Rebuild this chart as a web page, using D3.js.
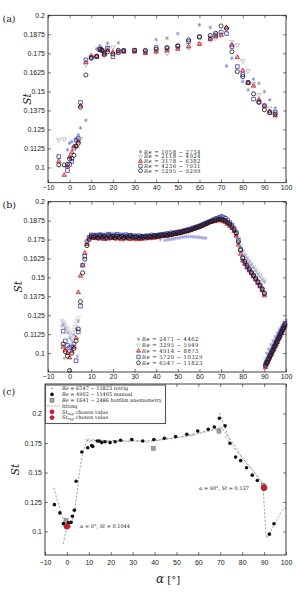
<!DOCTYPE html>
<html><head><meta charset="utf-8">
<script src="https://cdn.jsdelivr.net/npm/d3@7"></script>
<style>body{margin:0;background:#fff}svg{display:block}</style>
</head><body><svg id="c" width="297" height="593"></svg>
<script>
// ---------- shared ticks ----------
const xTickVals=[-10,0,10,20,30,40,50,60,70,80,90,100];
const xTickLabels=["\u221210","0","10","20","30","40","50","60","70","80","90","100"];
const yTicksAB=[0.1,0.1125,0.125,0.1375,0.15,0.1625,0.175,0.1875,0.2];
const yLabelsAB=["0.1","0.1125","0.125","0.1375","0.15","0.1625","0.175","0.1875","0.2"];
const yTicksC=[0.1,0.125,0.15,0.175,0.2];
const yLabelsC=["0.1","0.125","0.15","0.175","0.2"];

// ---------- panel (a) ----------
const legendA=["1058 \u2212 2734","2118 \u2212 4924","3178 \u2212 6382","4236 \u2212 7931","5295 \u2212 9299"];
const alphaA=[-5,-2.5,-1,0,1,2,3,4,5,7.5,10,12.5,14,15,16,17.5,20,22.5,25,30,35,40,45,50,55,60,65,67.5,70,72.5,75,77.5,80,82.5,85,87.5,90,92.5,95];
const stA1=[null,null,0.1116,0.116,0.117,null,0.1185,0.1214,0.126,0.131,null,0.178,0.180,null,null,0.1816,null,0.182,null,null,null,0.184,0.185,0.188,null,0.1937,0.192,null,null,0.1667,0.1718,null,0.1565,0.151,0.158,0.1553,0.1499,0.1444,0.139];
const stA2=[0.118,0.1186,null,null,null,null,null,null,0.119,0.1674,0.172,0.1735,0.179,null,null,0.179,0.179,0.1765,0.1765,0.1765,0.1755,0.176,0.175,0.178,0.1783,0.1815,0.184,0.185,0.187,0.1905,0.1827,0.1805,0.170,0.1635,0.155,0.1477,0.141,0.139,0.137];
const stA3=[0.104,0.095,0.1005,0.107,0.110,0.1138,0.114,0.117,0.1405,0.169,0.1733,0.173,0.177,0.1775,0.1745,0.177,0.1757,0.176,0.176,0.176,0.175,0.176,0.1768,0.1779,0.1794,0.181,0.1842,0.186,0.187,0.192,0.1805,0.1724,0.1637,0.1555,0.1536,0.1444,0.1405,0.1368,0.134];
const stA4=[0.1072,null,0.098,0.102,0.104,0.1127,0.118,0.119,0.1427,0.1707,0.1724,0.1728,0.1777,0.177,0.1755,0.1783,0.1728,0.1755,0.1768,0.177,0.1762,0.1788,0.1782,0.1796,0.1827,0.1856,0.185,0.187,0.189,0.188,0.1795,0.1663,0.161,0.1558,0.1449,0.1433,0.1405,0.1361,0.1361];
const stA5=[0.1017,0.1017,0.102,0.1055,0.106,0.108,0.114,0.116,0.1396,0.1608,0.1718,0.173,0.1777,0.1768,0.174,0.176,0.1746,0.177,0.1768,0.177,0.177,0.1777,0.1788,0.180,0.1838,0.186,0.1867,0.1882,0.193,0.1915,0.1761,0.163,0.1597,0.1558,0.1484,0.1427,0.1379,0.1361,0.135];

// ---------- panel (b) ----------
const legendB=["2471 \u2212 4462","3295 \u2212 5949","4914 \u2212 8873","5720 \u2212 10329","6547 \u2212 11823"];
const alphaB=[-3,-2,-1,0,1,2,3,4,5,6,7,8,9,10,11,12,13,14,15,16,17,18,19,20,21,22,23,24,25,26,27,28,29,30,31,32,33,34,35,36,37,38,39,40,41,42,43,44,45,46,47,48,49,50,51,52,53,54,55,56,57,58,59,60,61,62,63,64,65,66,67,68,69,70,71,72,73,74,75,76,77,78,79,80,81,82,83,84,85,86,87,88,89,90];
const alphaB2=[90.5,91,91.5,92,92.5,93,93.5,94,94.5,95,95.5,96,96.5,97,97.5,98,98.5,99,99.5];
const alphaB1=[-3.5,-3,-2,-1,0,1,2,3,4,3.5,-2.5,10,12,14,16,18,20,22,24,26,28,30,32,34,36,38,40,42,44,45,46,47,48,49,50,51,52,53,54,55,56,57,58,59,60,61,62,63,64,66,68,70,72,74,76,77,78,79,80,81,82,83,84,85,86,87,88,89,90,91,92,93,94,95,96,97,98,99,100];
const stB1=[0.118,0.119,0.1165,0.1135,0.110,0.1085,0.112,0.116,0.121,0.098,0.0965,
0.1775,0.178,0.1785,0.1775,0.179,0.178,0.1785,0.1775,0.178,0.1772,0.177,0.1768,0.176,0.1765,0.1755,0.1762,0.175,
0.1745,0.1748,0.175,0.1752,0.1755,0.1758,0.176,0.1762,0.1765,0.1768,0.177,0.177,0.177,0.1768,0.1768,0.1765,0.1765,0.1762,0.176,0.176,
0.1855,0.187,0.187,0.1875,0.1865,0.1845,0.1805,0.177,
0.1725,0.17,0.1675,0.165,0.1628,0.1605,0.1585,0.1565,0.1545,0.1525,0.1505,0.1485,0.147,
0.100,0.1025,0.1055,0.108,0.1105,0.113,0.1155,0.1175,0.12,0.1215];
const alphaB2s=[-3.5,-3,-2.5,-2,-1.5,-1,-0.5,0,0.5,1,1.5,2,2.5,3,3.5,4,8,9,10,12,14,16,18,20,22,24,26,28,30,32,34,36,38,40,42,44,46,48,50,52,54,56,58,60,62,64,66,68,70,72,74,75,76,77,78,79,80,81,82,83,84,85,86,87,88,89,90,90.5,91.5,92.5,93.5,94.5,95.5,96.5,97.5,98.5,99.5];
const stB2=[0.1215,0.1205,0.1195,0.118,0.117,0.1158,0.1145,0.1132,0.112,0.1115,0.1135,0.1155,0.1175,0.1195,0.1215,0.1235,
0.172,0.1765,0.1785,
0.1788,0.178,0.179,0.1782,0.179,0.1778,0.1785,0.1775,0.1782,0.1772,0.1778,0.177,0.1775,0.177,0.1775,0.1778,0.178,0.1782,0.179,0.1795,0.18,0.181,0.182,0.1832,0.1842,0.1852,0.186,0.187,0.1878,0.1882,0.1878,0.1862,
0.185,0.183,0.18,0.1755,0.171,0.167,0.1648,0.1628,0.161,0.1592,0.1572,0.1555,0.1535,0.1515,0.1495,0.148,
0.0965,0.0995,0.1025,0.1055,0.108,0.111,0.1135,0.116,0.1185,0.121];
const stB3=[0.104,0.102,0.100,0.097,0.101,0.104,0.110,0.140,0.151,0.158,0.166,0.172,0.1755,0.1765,
0.176,0.1758,0.1765,0.1755,0.176,0.1752,0.1762,0.1755,0.176,0.1758,
0.1765,0.1755,0.176,0.175,0.1762,0.1755,0.1765,0.1752,0.176,0.1755,
0.175,0.1758,0.1752,0.176,0.1755,0.1762,0.1758,0.1765,0.176,0.1768,
0.1765,0.177,0.1772,0.1775,0.1772,0.178,0.1778,0.1785,0.1785,0.179,
0.179,0.1795,0.18,0.1802,0.1808,0.181,0.1818,0.1822,0.1828,0.1832,
0.1838,0.1845,0.185,0.1858,0.1865,0.1868,0.187,0.1875,0.1878,0.1875,
0.187,0.1862,0.1852,0.184,0.1825,0.1805,0.1775,0.1715,0.1655,0.161,
0.1588,0.1565,0.1545,0.1525,0.1505,0.1485,0.1462,0.144,0.1415,0.138];
const stB3b=[0.0905,0.0925,0.0938,0.0955,0.0968,0.0985,0.0998,0.1015,0.1028,0.1045,0.1058,0.1072,0.109,0.1102,0.1118,0.1135,0.1148,0.1165,0.118];
const stB4=[0.1145,0.108,0.105,0.1035,0.104,0.106,0.095,0.114,0.131,0.158,0.164,0.1735,0.1765,0.178,
0.1775,0.1778,0.177,0.1782,0.1772,0.1778,0.177,0.1785,0.1772,0.178,
0.1775,0.1785,0.177,0.178,0.1772,0.1782,0.1775,0.1778,0.177,0.1775,
0.1768,0.1775,0.1765,0.1772,0.1768,0.1775,0.1772,0.178,0.1775,0.1778,
0.178,0.1782,0.1785,0.1785,0.179,0.1788,0.1795,0.1792,0.1798,0.18,
0.1802,0.1805,0.181,0.1812,0.1818,0.182,0.1826,0.183,0.1836,0.184,
0.1846,0.1852,0.1858,0.1865,0.187,0.1878,0.1885,0.189,0.1895,0.1902,
0.1898,0.189,0.1878,0.1862,0.1845,0.1822,0.1795,0.1745,0.1685,0.1625,
0.1595,0.157,0.155,0.153,0.151,0.149,0.1468,0.1445,0.142,0.1392];
const stB4b=[0.0925,0.094,0.0955,0.0968,0.0985,0.0998,0.1015,0.1028,0.1045,0.1058,0.1075,0.1088,0.1105,0.1118,0.1135,0.1148,0.1165,0.1178,0.1195];
const stB5=[0.106,0.101,0.098,0.0885,0.100,0.103,0.108,0.116,0.134,0.153,0.162,0.171,0.175,0.177,
0.1765,0.177,0.176,0.1775,0.1765,0.177,0.176,0.1775,0.1765,0.177,
0.176,0.1772,0.1765,0.177,0.176,0.1768,0.1762,0.1775,0.1765,0.1765,
0.1768,0.176,0.177,0.1765,0.1772,0.1765,0.177,0.1768,0.1775,0.177,
0.1772,0.1778,0.1775,0.178,0.1778,0.1785,0.1782,0.179,0.1788,0.1795,
0.1795,0.18,0.1803,0.1808,0.181,0.1815,0.182,0.1825,0.183,0.1835,
0.1842,0.185,0.1855,0.1862,0.1868,0.1872,0.1878,0.188,0.1885,0.1885,
0.188,0.1872,0.1862,0.185,0.1835,0.1815,0.179,0.1735,0.168,0.163,
0.1605,0.158,0.1558,0.1535,0.1515,0.1495,0.1472,0.145,0.1425,0.1395];
const stB5b=[0.0915,0.0935,0.0942,0.0962,0.0978,0.0988,0.1008,0.1018,0.1038,0.1047,0.1068,0.1078,0.1097,0.1108,0.1128,0.1138,0.1157,0.1168,0.1188];

// ---------- panel (c) ----------
const alphaManual=[-5.7,-3.2,-1.6,0.7,1.9,2.5,3.4,4.2,6.8,9.5,11.3,11.8,13.9,14.8,15.9,17.4,19.7,22,24.5,29.6,34.6,39.7,44.5,49.6,54.7,59.7,64.5,67.3,69.6,72.2,74.4,77,79.3,82,84.6,86.9,92.4,94.5];
const stManual=[0.1227,0.1157,0.1066,0.1072,0.1077,0.1128,0.1179,0.1426,0.1673,0.171,0.1728,0.172,0.1767,0.1767,0.1753,0.176,0.1753,0.176,0.1773,0.178,0.1767,0.178,0.179,0.1804,0.1824,0.1852,0.1866,0.1886,0.196,0.1895,0.1747,0.163,0.160,0.154,0.1477,0.1432,0.0977,0.1065];
const alphaHot=[-0.4,39.4,69.4,89.7];
const stHot=[0.1094,0.1705,0.185,0.139];
const alphaChosen=[0,90];
const stChosen=[0.1044,0.137];
// fitting curves (dashed grey)
const fitLx=[-6,-4.5,-3,-1.5,-0.5,0.5,1.5,2.5,3.5,4.5,5.5,6.5,7.5,8.5,9.5,10.5];
const fitLy=[0.137,0.127,0.118,0.1095,0.105,0.1025,0.1035,0.108,0.117,0.131,0.147,0.16,0.1685,0.174,0.1775,0.179];
const fitL2x=[-1.7,-0.8,0,0.6];
const fitL2y=[0.0895,0.097,0.104,0.109];
const fitPx=[9,20,35,45,57,68,71];
const fitPy=[0.1775,0.1765,0.1765,0.178,0.1815,0.1865,0.188];
const fitTx=[69.5,71.5,74.5];
const fitTy=[0.2005,0.191,0.1768];
const fitDx=[70,75,80,85,90];
const fitDy=[0.189,0.177,0.1625,0.1515,0.139];
const fitRx=[89.6,90.3,90.9];
const fitRy=[0.1355,0.114,0.0944];
const fitR2x=[91.5,94,98,100];
const fitR2y=[0.0945,0.1035,0.117,0.1205];
// rotrig (dash-dot)
const rotPx=[8.5,10,12,14,16,18,20,22,25,28,31,34];
const rotPy=[0.1785,0.1755,0.178,0.176,0.1775,0.176,0.1775,0.1765,0.177,0.1765,0.1772,0.1765];
const rotQx=[36,40,45,50,55,58];
const rotQy=[0.1755,0.1765,0.1785,0.1795,0.181,0.1815];
const rotSx=[55,60,65,68,70];
const rotSy=[0.182,0.1835,0.186,0.1875,0.1875];
const rotDx=[72,76,80,84,88,90];
const rotDy=[0.181,0.1715,0.1625,0.1535,0.1445,0.14];
const legendC=["6547 \u2212 11823 rotrig","4902 \u2212 11405 manual","1641 \u2212 2486 hotfilm anemometry"];

// ---------- drawing ----------
const svg=d3.select("#c");
const SANS="'Liberation Sans', Arial, sans-serif";
const SERIF="'DejaVu Serif', serif";

function panel(o){
  const x=d3.scaleLinear().domain([-10,100]).range([o.l,o.r]);
  const y=d3.scaleLinear().domain(o.yDom).range([o.b,o.t]);
  const g=svg.append("g");
  const fmt=(arr,lab)=>d=>lab[arr.indexOf(d)];
  const ax=(gen,tr)=>{const a=g.append("g").attr("transform",tr).call(gen);
    a.select(".domain").remove();
    a.selectAll("line").attr("stroke","#222").attr("stroke-width",0.6);
    a.selectAll("text").attr("font-family",SANS).attr("font-size",7).attr("fill","#222");return a;};
  ax(d3.axisBottom(x).tickValues(xTickVals).tickFormat(fmt(xTickVals,xTickLabels)).tickSize(-3).tickPadding(o.xpad),`translate(0,${o.b})`);
  ax(d3.axisTop(x).tickValues(xTickVals).tickFormat("").tickSize(-3),`translate(0,${o.t})`);
  ax(d3.axisLeft(y).tickValues(o.yT).tickFormat(fmt(o.yT,o.yL)).tickSize(-3).tickPadding(3),`translate(${o.l},0)`);
  ax(d3.axisRight(y).tickValues(o.yT).tickFormat("").tickSize(-3),`translate(${o.r},0)`);
  g.append("rect").attr("x",o.l).attr("y",o.t).attr("width",o.r-o.l).attr("height",o.b-o.t)
    .attr("fill","none").attr("stroke","#111").attr("stroke-width",0.8);
  svg.append("text").attr("x",2.5).attr("y",o.labY).attr("font-family",SERIF).attr("font-size",9.5).attr("fill","#222").text(o.label);
  svg.append("text").attr("transform",`translate(${o.stX},${(o.t+o.b)/2}) rotate(-90)`).attr("text-anchor","middle")
    .attr("font-family",SERIF).attr("font-style","italic").attr("font-size",10.5).attr("fill","#222").text("St");
  const mg=g.insert("g","rect");
  return {x,y,g:mg,dom:o.yDom};
}

const styles=[
  {type:d3.symbolAsterisk,size:10,fill:"none",stroke:"#6d7ccc",sw:0.7},
  {type:d3.symbolTriangle2,size:14,fill:"none",stroke:"#aaaaaa",sw:0.7,rot:true},
  {type:d3.symbolTriangle2,size:14,fill:"rgba(220,70,70,0.45)",stroke:"#cc2222",sw:0.8},
  {type:d3.symbolSquare2,size:17,fill:"none",stroke:"#3b3b9e",sw:0.8},
  {type:d3.symbolCircle,size:13,fill:"none",stroke:"#111",sw:0.8}
];
function series(p,xs,ys,st,opac){
  const pts=xs.map((d,i)=>[d,ys[i]]).filter(d=>d[1]!=null&&d[1]>=p.dom[0]&&d[1]<=p.dom[1]);
  p.g.append("g").attr("opacity",opac||1).selectAll("path").data(pts).join("path")
    .attr("transform",d=>`translate(${p.x(d[0])},${p.y(d[1])})${st.rot?" rotate(180)":""}`)
    .attr("d",d3.symbol().type(st.type).size(st.size))
    .attr("fill",st.fill).attr("stroke",st.stroke).attr("stroke-width",st.sw);
}
function legendRe(labels,mx,tx,y0,dy,fs,ls,opac){
  labels.forEach((t,i)=>{
    const yy=y0+i*dy, st=styles[i];
    svg.append("path").attr("transform",`translate(${mx},${yy})${st.rot?" rotate(180)":""}`)
      .attr("d",d3.symbol().type(st.type).size(st.size*0.85)).attr("fill",st.fill).attr("stroke",st.stroke)
      .attr("stroke-width",st.sw).attr("opacity",opac?opac[i]:1);
    const te=svg.append("text").attr("x",tx).attr("y",yy+1.9).attr("font-family",SERIF).attr("font-size",fs)
      .attr("letter-spacing",ls).attr("fill","#222");
    te.append("tspan").attr("font-style","italic").text("Re");
    te.append("tspan").text(" = "+t);
  });
}

// panel a
const pa=panel({l:48,r:286,t:15.3,b:182.7,yDom:[0.09,0.2],yT:yTicksAB,yL:yLabelsAB,xpad:2,label:"(a)",labY:22,stX:31});
[stA1,stA2,stA3,stA4,stA5].forEach((s,i)=>series(pa,alphaA,s,styles[i]));
legendRe(legendA,140.5,144,151.7,4.75,5.3,0.45);

// panel b
const pb=panel({l:48,r:286,t:201.7,b:372,yDom:[0.0875,0.2],yT:yTicksAB,yL:yLabelsAB,xpad:2,label:"(b)",labY:208,stX:22});
series(pb,alphaB1,stB1,styles[0],0.75);
series(pb,alphaB2s,stB2,styles[1],0.6);
series(pb,alphaB.concat(alphaB2),stB3.concat(stB3b),styles[2]);
series(pb,alphaB.concat(alphaB2),stB4.concat(stB4b),styles[3]);
series(pb,alphaB.concat(alphaB2),stB5.concat(stB5b),styles[4]);
legendRe(legendB,138.5,142,339.2,5.9,5.3,0.45,[0.8,0.7,1,1,1]);

// panel c
const pc=panel({l:45,r:286,t:384,b:555,yDom:[0.08,0.225],yT:yTicksC,yL:yLabelsC,xpad:5,label:"(c)",labY:395,stX:19});
const line=d3.line().x(d=>pc.x(d[0])).y(d=>pc.y(d[1]));
const zipXY=(a,b)=>a.map((d,i)=>[d,b[i]]);
[[fitLx,fitLy],[fitL2x,fitL2y],[fitPx,fitPy],[fitTx,fitTy],[fitDx,fitDy],[fitRx,fitRy],[fitR2x,fitR2y]].forEach(f=>{
  pc.g.append("path").attr("d",line(zipXY(f[0],f[1]))).attr("fill","none").attr("stroke","#8c8c8c")
    .attr("stroke-width",0.8).attr("stroke-dasharray","2.2,1.6");
});
[[rotPx,rotPy],[rotQx,rotQy],[rotSx,rotSy],[rotDx,rotDy]].forEach(f=>{
  pc.g.append("path").attr("d",line(zipXY(f[0],f[1]))).attr("fill","none").attr("stroke","#6c7aa8")
    .attr("stroke-width",0.6).attr("stroke-dasharray","2.5,1,0.6,1");
});
pc.g.append("g").selectAll("rect").data(zipXY(alphaHot,stHot)).join("rect")
  .attr("x",d=>pc.x(d[0])-2).attr("y",d=>pc.y(d[1])-2).attr("width",4).attr("height",4)
  .attr("fill","#a0a0a0").attr("stroke","#6a6a6a").attr("stroke-width",0.5);
pc.g.append("g").selectAll("circle").data(zipXY(alphaManual,stManual)).join("circle")
  .attr("cx",d=>pc.x(d[0])).attr("cy",d=>pc.y(d[1])).attr("r",1.8).attr("fill","#111");
pc.g.append("g").selectAll("circle").data(zipXY(alphaChosen,stChosen)).join("circle")
  .attr("cx",d=>pc.x(d[0])).attr("cy",d=>pc.y(d[1])).attr("r",3).attr("fill","#c42030").attr("stroke","#9a1020").attr("stroke-width",0.5);
function annot(x,y,a,s){
  const t=svg.append("text").attr("x",x).attr("y",y).attr("font-family",SERIF).attr("font-size",5).attr("fill","#222");
  t.append("tspan").attr("font-style","italic").text("\u03b1");
  t.append("tspan").text(" = "+a+"\u00b0, ");
  t.append("tspan").attr("font-style","italic").text("St");
  t.append("tspan").text(" = "+s);
}
annot(80,527.5,"0","0.1044");
annot(199,489.5,"90","0.137");
// x title
const xt=svg.append("text").attr("x",168).attr("y",583).attr("text-anchor","middle").attr("font-family",SERIF).attr("font-size",12).attr("fill","#222");
xt.append("tspan").attr("font-style","italic").text("\u03b1");
xt.append("tspan").attr("font-size",10).text(" [\u00b0]");

// legend c
const lg=svg.append("g");
lg.append("rect").attr("x",45.5).attr("y",385).attr("width",120).attr("height",38.5).attr("fill","#fff").attr("stroke","#555").attr("stroke-width",1.1);
const rowsC=[388.6,394.4,400.2,406,411.8,417.6];
const lt=(i)=>lg.append("text").attr("x",62).attr("y",rowsC[i]+1.7).attr("font-family",SERIF).attr("font-size",5).attr("fill","#222");
legendC.forEach((s,i)=>{const t=lt(i);t.append("tspan").attr("font-style","italic").text("Re");t.append("tspan").text(" = "+s);});
lg.append("circle").attr("cx",52).attr("cy",rowsC[0]).attr("r",0.8).attr("fill","#6c7aa8");
lg.append("circle").attr("cx",52).attr("cy",rowsC[1]).attr("r",1.8).attr("fill","#111");
lg.append("rect").attr("x",50).attr("y",rowsC[2]-2).attr("width",4).attr("height",4).attr("fill","#a0a0a0").attr("stroke","#6a6a6a").attr("stroke-width",0.5);
lg.append("line").attr("x1",47).attr("x2",60).attr("y1",rowsC[3]).attr("y2",rowsC[3]).attr("stroke","#8c8c8c").attr("stroke-width",0.8).attr("stroke-dasharray","2.2,1.6");
lt(3).text("fitting");
[4,5].forEach(i=>{
  lg.append("circle").attr("cx",52).attr("cy",rowsC[i]).attr("r",2.4).attr("fill","#c42030");
  const t=lt(i);t.append("tspan").attr("font-style","italic").text("St");
  t.append("tspan").attr("font-size",3.6).attr("dy",1).text("exp");
  t.append("tspan").attr("dy",-1).text(" chosen value");
});
</script></body></html>
